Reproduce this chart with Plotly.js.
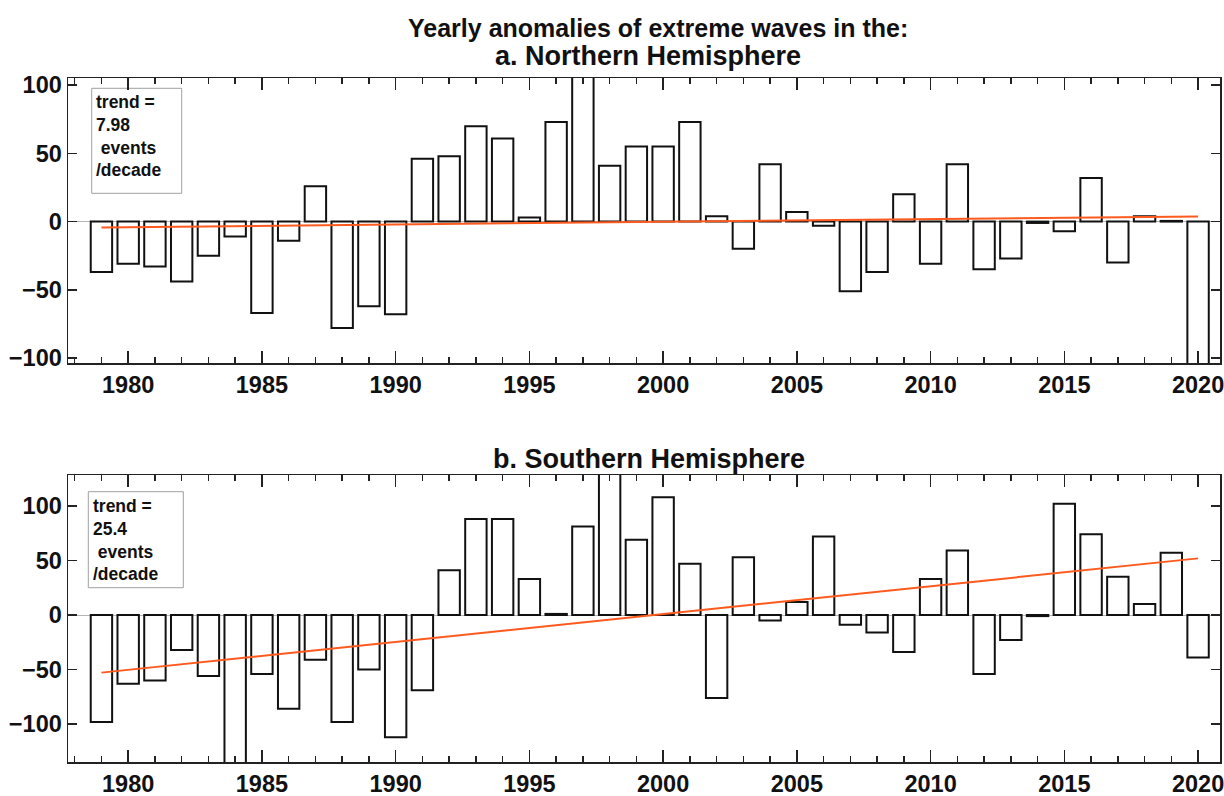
<!DOCTYPE html>
<html>
<head>
<meta charset="utf-8">
<script src="https://cdn.plot.ly/plotly-3.0.1.min.js"></script>
<style>html,body{margin:0;padding:0;background:#fff;}#chart{width:1224px;height:796px;}</style>
</head>
<body>
<div id="chart"></div>
<script>
const years = [];
for (let y = 1979; y <= 2020; y++) years.push(y);

const northAnom = [-37, -31, -33, -44, -25, -11, -67, -14, 26, -78, -62, -68,
  46, 48, 70, 61, 3, 73, 112, 41, 55, 55, 73, 4, -20, 42, 7, -3,
  -51, -37, 20, -31, 42, -35, -27, -1, -7, 32, -30, 4, 0.5, -115];

const southAnom = [-98, -63, -60, -32, -56, -142, -54, -86, -41, -98, -50, -112,
  -69, 41, 88, 88, 33, 1, 81, 140, 69, 108, 47, -76, 53, -5, 12, 72,
  -9, -16, -34, 33, 59, -54, -23, -1, 102, 74, 35, 10, 57, -39];

const trendYears = [1979, 2020];
const northTrend = [-4.3, 3.8];
const southTrend = [-52.8, 51.9];

const northTrendLabel = ['trend =', '7.98', '\u00a0events', '/decade'];
const southTrendLabel = ['trend =', '25.4', '\u00a0events', '/decade'];

const mainTitle = 'Yearly anomalies of extreme waves in the:';
const northTitle = 'a. Northern Hemisphere';
const southTitle = 'b. Southern Hemisphere';

const FONT = '"Liberation Sans", Arial, Helvetica, sans-serif';
const trendColor = '#ff5a1e';
const TICK = 23.5;

function barTrace(vals, xa, ya) {
  return {type: 'bar', x: years, y: vals, xaxis: xa, yaxis: ya, width: 0.8,
    marker: {color: 'rgba(255,255,255,1)', line: {color: '#111', width: 2}},
    hoverinfo: 'x+y'};
}
function lineTrace(vals, xa, ya) {
  return {type: 'scatter', mode: 'lines', x: trendYears, y: vals, xaxis: xa, yaxis: ya,
    line: {color: trendColor, width: 2}, cliponaxis: true};
}

const data = [
  barTrace(northAnom, 'x', 'y'), lineTrace(northTrend, 'x', 'y'),
  barTrace(southAnom, 'x2', 'y2'), lineTrace(southTrend, 'x2', 'y2')
];

function xAxis(anchor) {
  return {anchor: anchor, range: [1977.75, 2020.82], tickmode: 'linear', tick0: 1980, dtick: 5,
    ticks: 'inside', ticklen: 12, tickwidth: 1.5, tickcolor: '#222',
    minor: {dtick: 1, ticks: 'inside', ticklen: 6, tickwidth: 1.5, tickcolor: '#222'},
    showline: true, linecolor: '#222', linewidth: 1.5, mirror: 'ticks',
    showgrid: false, zeroline: false, ticklabeloverflow: 'allow',
    tickfont: {family: FONT, size: TICK, color: '#111', weight: 'bold'}};
}
function yAxis(anchor, domain, range) {
  return {anchor: anchor, domain: domain, range: range, tickvals: [-100, -50, 0, 50, 100],
    ticks: 'inside', ticklen: 9, tickwidth: 1.5, tickcolor: '#222',
    showline: true, linecolor: '#222', linewidth: 1.5, mirror: 'ticks',
    showgrid: false, zeroline: true, zerolinecolor: '#b5b5b5', zerolinewidth: 1,
    tickfont: {family: FONT, size: TICK, color: '#111', weight: 'bold'}};
}

const PT = 78, PB = 762, PH = PB - PT, PL = 68, PW = 1152;
const py = p => (PB - p) / PH;
const px = p => (p - PL) / PW;

const annotations = [
  {text: mainTitle, x: px(658), y: py(28), xref: 'paper', yref: 'paper', showarrow: false,
   xanchor: 'center', yanchor: 'middle', font: {family: FONT, size: 25, color: '#111', weight: 'bold'}},
  {text: northTitle, x: px(648), y: py(56), xref: 'paper', yref: 'paper', showarrow: false,
   xanchor: 'center', yanchor: 'middle', font: {family: FONT, size: 27, color: '#111', weight: 'bold'}},
  {text: southTitle, x: px(649), y: py(459), xref: 'paper', yref: 'paper', showarrow: false,
   xanchor: 'center', yanchor: 'middle', font: {family: FONT, size: 27, color: '#111', weight: 'bold'}},
  {text: northTrendLabel.join('<br>'), x: px(94), y: py(90), xref: 'paper', yref: 'paper', showarrow: false,
   xanchor: 'left', yanchor: 'top', align: 'left', font: {family: FONT, size: 17.5, color: '#111', weight: 'bold'}},
  {text: southTrendLabel.join('<br>'), x: px(91), y: py(494), xref: 'paper', yref: 'paper', showarrow: false,
   xanchor: 'left', yanchor: 'top', align: 'left', font: {family: FONT, size: 17.5, color: '#111', weight: 'bold'}}
];

const shapes = [
  {type: 'rect', xref: 'paper', yref: 'paper', x0: px(91.7), x1: px(181.7), y0: py(193.3), y1: py(88.3),
   line: {color: '#a0a0a0', width: 1}, fillcolor: 'rgba(255,255,255,1)', layer: 'below'},
  {type: 'rect', xref: 'paper', yref: 'paper', x0: px(88.3), x1: px(183.3), y0: py(587.7), y1: py(491.7),
   line: {color: '#a0a0a0', width: 1}, fillcolor: 'rgba(255,255,255,1)', layer: 'below'}
];

const layout = {
  width: 1224, height: 796,
  margin: {l: PL, r: 1224 - PL - PW, t: PT, b: 796 - PB},
  paper_bgcolor: '#fff', plot_bgcolor: '#fff',
  showlegend: false, bargap: 0,
  xaxis: xAxis('y'),
  yaxis: yAxis('x', [py(363), 1], [-103.7, 105.3]),
  xaxis2: xAxis('y2'),
  yaxis2: yAxis('x2', [0, py(475)], [-134.7, 128.3]),
  annotations: annotations,
  shapes: shapes
};

Plotly.newPlot('chart', data, layout, {displayModeBar: false, staticPlot: true});
</script>
</body>
</html>
